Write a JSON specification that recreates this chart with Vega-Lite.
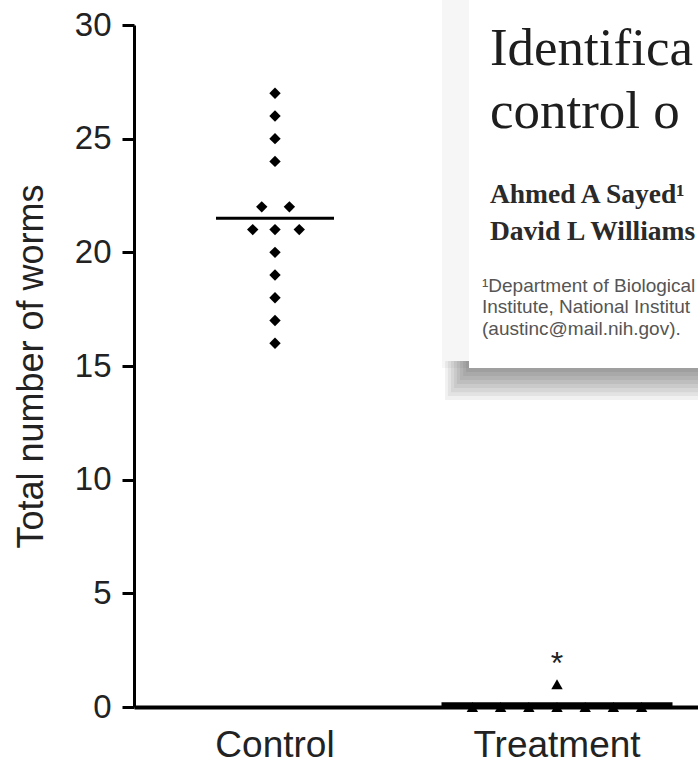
{
  "$schema": "https://vega.github.io/schema/vega-lite/v6.json",
  "width": 564,
  "height": 682,
  "autosize": "none",
  "padding": {"left": 134, "top": 25, "right": 0, "bottom": 56},
  "background": "white",
  "config": {"view": {"stroke": null}, "font": "Liberation Sans"},
  "datasets": {
    "points": [
      {"group": "Control", "worms": 27, "slot": 0},
      {"group": "Control", "worms": 26, "slot": 0},
      {"group": "Control", "worms": 25, "slot": 0},
      {"group": "Control", "worms": 24, "slot": 0},
      {"group": "Control", "worms": 22, "slot": -0.47},
      {"group": "Control", "worms": 22, "slot": 0.51},
      {"group": "Control", "worms": 21, "slot": -0.79},
      {"group": "Control", "worms": 21, "slot": 0},
      {"group": "Control", "worms": 21, "slot": 0.86},
      {"group": "Control", "worms": 20, "slot": 0},
      {"group": "Control", "worms": 19, "slot": 0},
      {"group": "Control", "worms": 18, "slot": 0},
      {"group": "Control", "worms": 17, "slot": 0},
      {"group": "Control", "worms": 16, "slot": 0},
      {"group": "Treatment", "worms": 0, "slot": -3},
      {"group": "Treatment", "worms": 0, "slot": -2},
      {"group": "Treatment", "worms": 0, "slot": -1},
      {"group": "Treatment", "worms": 0, "slot": 0},
      {"group": "Treatment", "worms": 0, "slot": 1},
      {"group": "Treatment", "worms": 0, "slot": 2},
      {"group": "Treatment", "worms": 0, "slot": 3},
      {"group": "Treatment", "worms": 1, "slot": 0}
    ],
    "means": [
      {"group": "Control", "mean": 21.5},
      {"group": "Treatment", "mean": 0.125}
    ],
    "star": [{"group": "Treatment", "label": "*"}],
    "inset": [{"paper": "Nature Medicine"}]
  },
  "layer": [
    {
      "layer": [
        {
          "data": {"name": "points"},
          "mark": {"type": "point", "filled": true, "size": 130, "color": "black", "opacity": 1},
          "encoding": {
            "x": {
              "field": "group", "type": "nominal",
              "scale": {"type": "band", "paddingInner": 0, "paddingOuter": 0, "domain": ["Control", "Treatment"]},
              "axis": {
                "title": null, "labelAngle": 0, "ticks": false, "domainWidth": 4, "domainColor": "black",
                "labelFontSize": 37, "labelPadding": 20, "labelColor": "#222", "labelFont": "Liberation Sans"
              }
            },
            "xOffset": {"field": "slot", "type": "quantitative", "scale": {"domain": [-5, 5], "range": [0, 282]}},
            "y": {
              "field": "worms", "type": "quantitative",
              "scale": {"domain": [0, 30], "nice": false, "zero": true},
              "axis": {
                "title": "Total number of worms", "values": [0, 5, 10, 15, 20, 25, 30], "grid": false,
                "tickSize": 12, "tickWidth": 3, "tickColor": "black", "domainWidth": 3, "domainColor": "black",
                "labelFontSize": 33, "labelPadding": 11, "labelColor": "#222", "labelFont": "Liberation Sans",
                "titleFontSize": 36, "titleFontWeight": "normal", "titleColor": "#222", "titleFont": "Liberation Sans",
                "titlePadding": 24
              }
            },
            "shape": {"field": "group", "type": "nominal", "scale": {"domain": ["Control", "Treatment"], "range": ["diamond", "triangle-up"]}, "legend": null}
          }
        },
        {
          "data": {"name": "means"},
          "transform": [{"filter": "datum.group === 'Control'"}],
          "mark": {"type": "tick", "size": 118, "thickness": 3, "color": "black", "opacity": 1},
          "encoding": {
            "x": {"field": "group", "type": "nominal", "scale": {"type": "band", "paddingInner": 0, "paddingOuter": 0, "domain": ["Control", "Treatment"]}, "title": null},
            "y": {"field": "mean", "type": "quantitative", "scale": {"domain": [0, 30], "nice": false}, "title": "Total number of worms"}
          }
        },
        {
          "data": {"name": "means"},
          "transform": [{"filter": "datum.group === 'Treatment'"}],
          "mark": {"type": "tick", "size": 231, "thickness": 4, "color": "black", "opacity": 1},
          "encoding": {
            "x": {"field": "group", "type": "nominal", "scale": {"type": "band", "paddingInner": 0, "paddingOuter": 0, "domain": ["Control", "Treatment"]}, "title": null},
            "y": {"field": "mean", "type": "quantitative", "scale": {"domain": [0, 30], "nice": false}, "title": "Total number of worms"}
          }
        },
        {
          "data": {"name": "star"},
          "mark": {"type": "text", "fontSize": 32, "color": "#222", "baseline": "alphabetic", "align": "center", "font": "Liberation Sans"},
          "encoding": {
            "x": {"field": "group", "type": "nominal", "scale": {"type": "band", "paddingInner": 0, "paddingOuter": 0, "domain": ["Control", "Treatment"]}, "title": null},
            "y": {"datum": 1.45, "type": "quantitative", "scale": {"domain": [0, 30], "nice": false}, "title": "Total number of worms"},
            "text": {"field": "label"}
          }
        }
      ]
    },
    {
      "data": {"name": "inset"},
      "layer": [
        {
          "mark": {"type": "rect", "color": "black", "opacity": 0.035},
          "encoding": {
            "x": {"datum": 1.592, "type": "quantitative", "scale": {"domain": [0.5, 2.5], "nice": false, "zero": false}, "axis": null},
            "x2": {"datum": 1.688},
            "y": {"datum": 31.3, "type": "quantitative", "scale": {"domain": [0, 30], "nice": false}, "axis": null},
            "y2": {"datum": 14.91}
          }
        },
        {"mark": {"type": "rect", "color": "black", "opacity": 0.055},
          "encoding": {"x": {"datum": 1.677, "type": "quantitative", "scale": {"domain": [0.5, 2.5], "nice": false, "zero": false}, "axis": null}, "x2": {"datum": 2.6},
            "y": {"datum": 15.22, "type": "quantitative", "scale": {"domain": [0, 30], "nice": false}, "axis": null}, "y2": {"datum": 14.74}}},
        {"mark": {"type": "rect", "color": "black", "opacity": 0.055},
          "encoding": {"x": {"datum": 1.667, "type": "quantitative", "scale": {"domain": [0.5, 2.5], "nice": false, "zero": false}, "axis": null}, "x2": {"datum": 2.6},
            "y": {"datum": 15.22, "type": "quantitative", "scale": {"domain": [0, 30], "nice": false}, "axis": null}, "y2": {"datum": 14.56}}},
        {"mark": {"type": "rect", "color": "black", "opacity": 0.055},
          "encoding": {"x": {"datum": 1.656, "type": "quantitative", "scale": {"domain": [0.5, 2.5], "nice": false, "zero": false}, "axis": null}, "x2": {"datum": 2.6},
            "y": {"datum": 15.22, "type": "quantitative", "scale": {"domain": [0, 30], "nice": false}, "axis": null}, "y2": {"datum": 14.38}}},
        {"mark": {"type": "rect", "color": "black", "opacity": 0.055},
          "encoding": {"x": {"datum": 1.645, "type": "quantitative", "scale": {"domain": [0.5, 2.5], "nice": false, "zero": false}, "axis": null}, "x2": {"datum": 2.6},
            "y": {"datum": 15.22, "type": "quantitative", "scale": {"domain": [0, 30], "nice": false}, "axis": null}, "y2": {"datum": 14.21}}},
        {"mark": {"type": "rect", "color": "black", "opacity": 0.055},
          "encoding": {"x": {"datum": 1.635, "type": "quantitative", "scale": {"domain": [0.5, 2.5], "nice": false, "zero": false}, "axis": null}, "x2": {"datum": 2.6},
            "y": {"datum": 15.22, "type": "quantitative", "scale": {"domain": [0, 30], "nice": false}, "axis": null}, "y2": {"datum": 14.03}}},
        {"mark": {"type": "rect", "color": "black", "opacity": 0.055},
          "encoding": {"x": {"datum": 1.624, "type": "quantitative", "scale": {"domain": [0.5, 2.5], "nice": false, "zero": false}, "axis": null}, "x2": {"datum": 2.6},
            "y": {"datum": 15.22, "type": "quantitative", "scale": {"domain": [0, 30], "nice": false}, "axis": null}, "y2": {"datum": 13.85}}},
        {"mark": {"type": "rect", "color": "black", "opacity": 0.055},
          "encoding": {"x": {"datum": 1.613, "type": "quantitative", "scale": {"domain": [0.5, 2.5], "nice": false, "zero": false}, "axis": null}, "x2": {"datum": 2.6},
            "y": {"datum": 15.22, "type": "quantitative", "scale": {"domain": [0, 30], "nice": false}, "axis": null}, "y2": {"datum": 13.68}}},
        {"mark": {"type": "rect", "color": "black", "opacity": 0.055},
          "encoding": {"x": {"datum": 1.603, "type": "quantitative", "scale": {"domain": [0.5, 2.5], "nice": false, "zero": false}, "axis": null}, "x2": {"datum": 2.6},
            "y": {"datum": 15.22, "type": "quantitative", "scale": {"domain": [0, 30], "nice": false}, "axis": null}, "y2": {"datum": 13.5}}},
        {
          "mark": {"type": "rect", "color": "white", "opacity": 1},
          "encoding": {
            "x": {"datum": 1.688, "type": "quantitative", "scale": {"domain": [0.5, 2.5], "nice": false, "zero": false}, "axis": null},
            "x2": {"datum": 2.6},
            "y": {"datum": 31.3, "type": "quantitative", "scale": {"domain": [0, 30], "nice": false}, "axis": null},
            "y2": {"datum": 14.91}
          }
        },
        {
          "mark": {"type": "text", "text": "Identifica", "font": "Liberation Serif", "fontSize": 53, "color": "#1e1e1e", "align": "left", "baseline": "alphabetic"},
          "encoding": {
            "x": {"datum": 1.762, "type": "quantitative", "scale": {"domain": [0.5, 2.5], "nice": false, "zero": false}, "axis": null},
            "y": {"datum": 28.24, "type": "quantitative", "scale": {"domain": [0, 30], "nice": false}, "axis": null}
          }
        },
        {
          "mark": {"type": "text", "text": "control o", "font": "Liberation Serif", "fontSize": 53, "color": "#1e1e1e", "align": "left", "baseline": "alphabetic"},
          "encoding": {
            "x": {"datum": 1.762, "type": "quantitative", "scale": {"domain": [0.5, 2.5], "nice": false, "zero": false}, "axis": null},
            "y": {"datum": 25.47, "type": "quantitative", "scale": {"domain": [0, 30], "nice": false}, "axis": null}
          }
        },
        {
          "mark": {"type": "text", "text": "Ahmed A Sayed¹", "font": "Liberation Serif", "fontWeight": "bold", "fontSize": 27.5, "color": "#2a2a2a", "align": "left", "baseline": "alphabetic"},
          "encoding": {
            "x": {"datum": 1.762, "type": "quantitative", "scale": {"domain": [0.5, 2.5], "nice": false, "zero": false}, "axis": null},
            "y": {"datum": 22.17, "type": "quantitative", "scale": {"domain": [0, 30], "nice": false}, "axis": null}
          }
        },
        {
          "mark": {"type": "text", "text": "David L Williams", "font": "Liberation Serif", "fontWeight": "bold", "fontSize": 27.5, "color": "#2a2a2a", "align": "left", "baseline": "alphabetic"},
          "encoding": {
            "x": {"datum": 1.762, "type": "quantitative", "scale": {"domain": [0.5, 2.5], "nice": false, "zero": false}, "axis": null},
            "y": {"datum": 20.54, "type": "quantitative", "scale": {"domain": [0, 30], "nice": false}, "axis": null}
          }
        },
        {
          "mark": {"type": "text", "text": "¹Department of Biological", "font": "Liberation Sans", "fontSize": 19, "color": "#555", "align": "left", "baseline": "alphabetic"},
          "encoding": {
            "x": {"datum": 1.734, "type": "quantitative", "scale": {"domain": [0.5, 2.5], "nice": false, "zero": false}, "axis": null},
            "y": {"datum": 18.26, "type": "quantitative", "scale": {"domain": [0, 30], "nice": false}, "axis": null}
          }
        },
        {
          "mark": {"type": "text", "text": "Institute, National Institut", "font": "Liberation Sans", "fontSize": 19, "color": "#555", "align": "left", "baseline": "alphabetic"},
          "encoding": {
            "x": {"datum": 1.734, "type": "quantitative", "scale": {"domain": [0.5, 2.5], "nice": false, "zero": false}, "axis": null},
            "y": {"datum": 17.33, "type": "quantitative", "scale": {"domain": [0, 30], "nice": false}, "axis": null}
          }
        },
        {
          "mark": {"type": "text", "text": "(austinc@mail.nih.gov).", "font": "Liberation Sans", "fontSize": 19, "color": "#555", "align": "left", "baseline": "alphabetic"},
          "encoding": {
            "x": {"datum": 1.734, "type": "quantitative", "scale": {"domain": [0.5, 2.5], "nice": false, "zero": false}, "axis": null},
            "y": {"datum": 16.36, "type": "quantitative", "scale": {"domain": [0, 30], "nice": false}, "axis": null}
          }
        }
      ]
    }
  ],
  "resolve": {"scale": {"x": "independent", "y": "independent"}, "axis": {"x": "independent", "y": "independent"}}
}
